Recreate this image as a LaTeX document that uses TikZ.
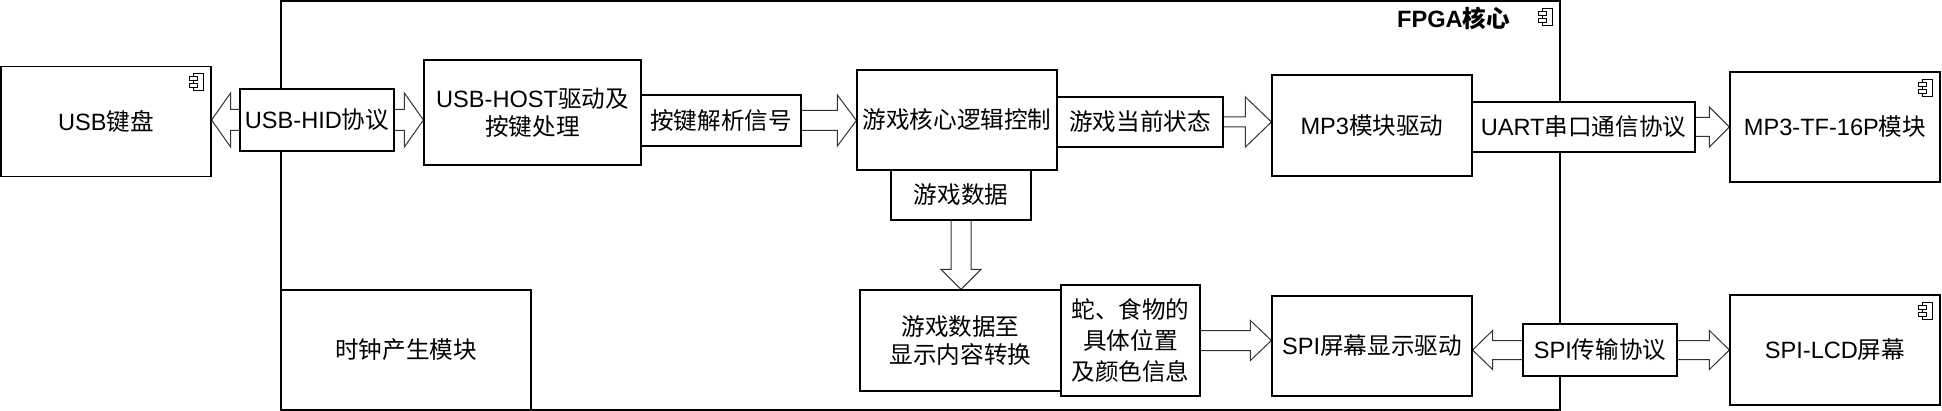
\documentclass[tikz,border=0pt]{standalone}
\usepackage{fontspec}
\setmainfont{Noto Sans CJK SC}
\newfontfamily\lat{Liberation Sans}
\usetikzlibrary{calc}
\pgfdeclarelayer{arrows}
\pgfsetlayers{arrows,main}

\tikzset{
  comp/.style={draw, line width=0.6pt, fill=white, align=center, inner sep=0pt,
    font=\fontsize{11.8pt}{14pt}\selectfont},
  sz/.style 2 args={minimum width=#1*0.5pt, minimum height=#2*0.5pt},
  fatarrow/.style={draw=black!80, fill=white, line width=0.5pt, line join=miter},
}

% arrow to the right: start, tip, shaft half, head half, head length
\newcommand{\rarrow}[5]{%
  \draw[fatarrow] ($(#1)+(0,-#3)$) -- ($(#2)+(-#5,-#3)$) -- ($(#2)+(-#5,-#4)$) -- (#2)
    -- ($(#2)+(-#5,#4)$) -- ($(#2)+(-#5,#3)$) -- ($(#1)+(0,#3)$) -- cycle;}
% arrow with two heads: left tip, right tip, shaft half, head half, head length
\newcommand{\darrow}[5]{%
  \draw[fatarrow] (#1) -- ($(#1)+(#5,-#4)$) -- ($(#1)+(#5,-#3)$) -- ($(#2)+(-#5,-#3)$)
    -- ($(#2)+(-#5,-#4)$) -- (#2) -- ($(#2)+(-#5,#4)$) -- ($(#2)+(-#5,#3)$)
    -- ($(#1)+(#5,#3)$) -- ($(#1)+(#5,#4)$) -- cycle;}
% arrow pointing down: start, tip, shaft half, head half, head length
\newcommand{\dnarrow}[5]{%
  \draw[fatarrow] ($(#1)+(-#3,0)$) -- ($(#2)+(-#3,-#5)$) -- ($(#2)+(-#4,-#5)$) -- (#2)
    -- ($(#2)+(#4,-#5)$) -- ($(#2)+(#3,-#5)$) -- ($(#1)+(#3,0)$) -- cycle;}
% small component symbol in the top right corner of a node
\newcommand{\compicon}[1]{%
  \draw[line width=0.5pt] ($(#1.north east)+(-18,8)$) rectangle ($(#1.north east)+(-8,25)$);
  \draw[line width=0.5pt, fill=white] ($(#1.north east)+(-22,11)$) rectangle ($(#1.north east)+(-14,15)$);
  \draw[line width=0.5pt, fill=white] ($(#1.north east)+(-22,18)$) rectangle ($(#1.north east)+(-14,22)$);}

\begin{document}
\begin{tikzpicture}[x=0.5pt,y=-0.5pt]
\useasboundingbox (0,0) rectangle (1942,411);

% FPGA
\draw[line width=0.6pt] (281,1) rectangle (1560,410);
\coordinate (fpga) at (1560,1);
\node[anchor=east, font=\fontsize{11.8pt}{14pt}\selectfont\bfseries] (fpgat) at ($(fpga)+(-43,17)$) {{\lat FPGA}核心};
\compicon{fpga}

% modules
\node[comp, sz={210}{110}] (kbd) at (106,121.5) {{\lat USB}键盘};
\compicon{kbd}
\node[comp, sz={217}{105}] (host) at (532.5,112.5) {{\lat USB-HOST}驱动及\\按键处理};
\node[comp, sz={200}{100}] (logic) at (957,120) {游戏核心逻辑控制};
\node[comp, sz={200}{101}] (mp3drv) at (1372,125.5) {{\lat MP3}模块驱动};
\node[comp, sz={210}{110}] (mp3mod) at (1835,127) {{\lat MP3-TF-16P}模块};
\compicon{mp3mod}
\node[comp, sz={250}{120}] (clk) at (406,350) {时钟产生模块};
\node[comp, sz={201}{101}] (conv) at (960.5,340.5) {游戏数据至\\显示内容转换};
\node[comp, sz={200}{100}] (spidrv) at (1372,346) {{\lat SPI}屏幕显示驱动};
\node[comp, sz={210}{110}] (lcd) at (1835,350) {{\lat SPI-LCD}屏幕};
\compicon{lcd}

% labels
\node[comp, sz={154}{62}] (hid) at (317,120) {{\lat USB-HID}协议};
\node[comp, sz={160}{51}] (keysig) at (721,120.5) {按键解析信号};
\node[comp, sz={166}{50}] (state) at (1140,122) {游戏当前状态};
\node[comp, sz={223}{50}] (uart) at (1583.5,127) {{\lat UART}串口通信协议};
\node[comp, sz={140}{50}] (gdata) at (961,195) {游戏数据};
\node[comp, sz={139}{111}, font=\fontsize{11.8pt}{15.5pt}\selectfont] (pos) at (1130.5,340.5) {蛇、食物的\\具体位置\\及颜色信息};
\node[comp, sz={154}{52}] (spi) at (1600,350) {{\lat SPI}传输协议};

% connectors
\begin{pgfonlayer}{arrows}
\darrow{kbd.east |- hid.center}{host.west |- hid.center}{10.5}{27}{19}
\rarrow{keysig.center}{logic.west |- keysig.center}{10}{25.5}{19}
\rarrow{state.center}{mp3drv.west |- state.center}{5}{25}{26}
\rarrow{uart.center}{mp3mod.west |- uart.center}{9.5}{20}{20}
\dnarrow{gdata.center}{conv.north -| gdata.center}{10}{20}{20}
\rarrow{pos.center}{spidrv.west |- pos.center}{10}{20}{21}
\darrow{spidrv.east |- spi.center}{lcd.west |- spi.center}{9.5}{19.5}{20}
\end{pgfonlayer}
\end{tikzpicture}
\end{document}
